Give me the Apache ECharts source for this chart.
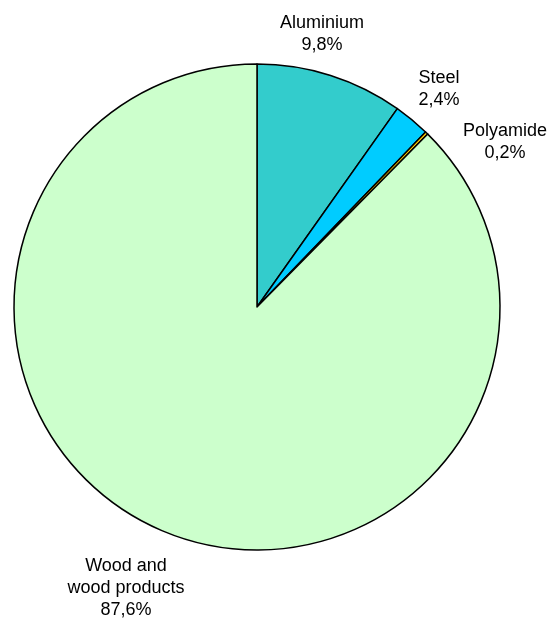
<!DOCTYPE html>
<html>
<head>
<meta charset="utf-8">
<script src="https://cdn.jsdelivr.net/npm/echarts@6/dist/echarts.min.js"></script>
<style>
html,body{margin:0;padding:0;background:#fff;}
#chart{width:551px;height:618px;}
</style>
</head>
<body>
<div id="chart"></div>
<script>
const categories = ['Aluminium', 'Steel', 'Polyamide', 'Wood and\nwood products'];
const shares = [9.8, 2.4, 0.2, 87.6];
const colors = ['#33CCCC', '#00CCFF', '#FFCC00', '#CCFFCC'];

const labelPos = [[322, 34], [439, 89], [505, 142], [126, 588]];

const chart = echarts.init(document.getElementById('chart'));
chart.setOption({
  animation: false,
  series: [{
    type: 'pie',
    center: [257, 307],
    radius: [0, 243],
    startAngle: 90,
    clockwise: true,
    avoidLabelOverlap: false,
    itemStyle: { borderColor: '#000', borderWidth: 1.5 },
    emphasis: { disabled: true },
    label: {
      show: true,
      position: 'outside',
      fontFamily: 'Liberation Sans, Arial, sans-serif',
      fontSize: 18,
      lineHeight: 22,
      color: '#000',
      align: 'center',
      formatter: p => p.name + '\n' + p.value.toFixed(1).replace('.', ',') + '%'
    },
    labelLine: { show: false },
    labelLayout: p => ({
      x: labelPos[p.dataIndex][0],
      y: labelPos[p.dataIndex][1],
      align: 'center',
      verticalAlign: 'middle'
    }),
    data: categories.map((c, i) => ({ name: c, value: shares[i], itemStyle: { color: colors[i] } }))
  }]
});
</script>
</body>
</html>
